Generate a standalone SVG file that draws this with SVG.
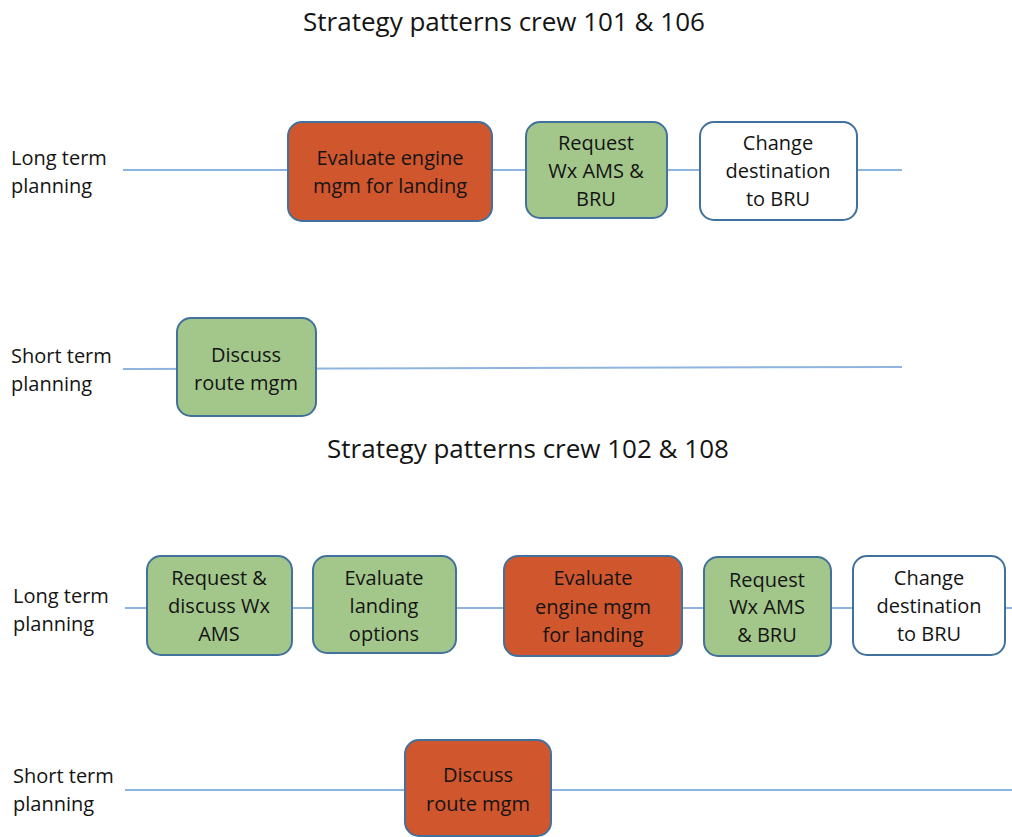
<svg xmlns="http://www.w3.org/2000/svg" width="1012" height="837" viewBox="0 0 1012 837">
<style>
.t{font-family:"Open Sans","Liberation Sans",sans-serif;fill:#141414}
.title{font-size:26px;text-anchor:middle}
.lbl{font-size:20px}
.bt{font-size:20px;text-anchor:middle}
.box{stroke:#41719C;stroke-width:2}
.red{fill:#D0562E}
.green{fill:#A3C78B}
.white{fill:#FFFFFF}
.ln{stroke:#8FB4E0;stroke-width:2;fill:none}
</style>
<rect width="1012" height="837" fill="#fff"/>
<g id="connectors">
<line class="ln" x1="123" y1="170" x2="902" y2="170"/>
<line class="ln" x1="123" y1="369" x2="902" y2="367"/>
<line class="ln" x1="125" y1="608" x2="1012" y2="608"/>
<line class="ln" x1="125" y1="790" x2="1012" y2="790"/>
</g>
<text class="t title" x="504" y="31">Strategy patterns crew 101 &amp; 106</text>
<text class="t title" x="528" y="458">Strategy patterns crew 102 &amp; 108</text>
<g id="labels">
<text class="t lbl" x="11" y="165">Long term</text>
<text class="t lbl" x="11" y="193">planning</text>
<text class="t lbl" x="11" y="363">Short term</text>
<text class="t lbl" x="11" y="391">planning</text>
<text class="t lbl" x="13" y="603">Long term</text>
<text class="t lbl" x="13" y="631">planning</text>
<text class="t lbl" x="13" y="783">Short term</text>
<text class="t lbl" x="13" y="811">planning</text>
</g>
<g id="n1">
<rect class="box red" x="288" y="122" width="204" height="99" rx="14"/>
<text class="t bt" x="390" y="165">Evaluate engine</text>
<text class="t bt" x="390" y="193">mgm for landing</text>
</g>
<g id="n2">
<rect class="box green" x="526" y="122" width="141" height="96" rx="14"/>
<text class="t bt" x="596" y="150">Request</text>
<text class="t bt" x="596" y="178">Wx AMS &amp;</text>
<text class="t bt" x="596" y="206">BRU</text>
</g>
<g id="n3">
<rect class="box white" x="700" y="122" width="157" height="98" rx="14"/>
<text class="t bt" x="778" y="150">Change</text>
<text class="t bt" x="778" y="178">destination</text>
<text class="t bt" x="778" y="206">to BRU</text>
</g>
<g id="n4">
<rect class="box green" x="177" y="318" width="139" height="98" rx="14"/>
<text class="t bt" x="246" y="362">Discuss</text>
<text class="t bt" x="246" y="390">route mgm</text>
</g>
<g id="n5">
<rect class="box green" x="147" y="556" width="145" height="99" rx="14"/>
<text class="t bt" x="219" y="585">Request &amp;</text>
<text class="t bt" x="219" y="613">discuss Wx</text>
<text class="t bt" x="219" y="641">AMS</text>
</g>
<g id="n6">
<rect class="box green" x="313" y="556" width="143" height="97" rx="14"/>
<text class="t bt" x="384" y="585">Evaluate</text>
<text class="t bt" x="384" y="613">landing</text>
<text class="t bt" x="384" y="641">options</text>
</g>
<g id="n7">
<rect class="box red" x="504" y="556" width="178" height="100" rx="14"/>
<text class="t bt" x="593" y="585">Evaluate</text>
<text class="t bt" x="593" y="614">engine mgm</text>
<text class="t bt" x="593" y="642">for landing</text>
</g>
<g id="n8">
<rect class="box green" x="704" y="557" width="127" height="99" rx="14"/>
<text class="t bt" x="767" y="587">Request</text>
<text class="t bt" x="767" y="614">Wx AMS</text>
<text class="t bt" x="767" y="642">&amp; BRU</text>
</g>
<g id="n9">
<rect class="box white" x="853" y="556" width="152" height="99" rx="14"/>
<text class="t bt" x="929" y="585">Change</text>
<text class="t bt" x="929" y="613">destination</text>
<text class="t bt" x="929" y="641">to BRU</text>
</g>
<g id="n10">
<rect class="box red" x="405" y="740" width="146" height="96" rx="14"/>
<text class="t bt" x="478" y="782">Discuss</text>
<text class="t bt" x="478" y="811">route mgm</text>
</g>
</svg>
